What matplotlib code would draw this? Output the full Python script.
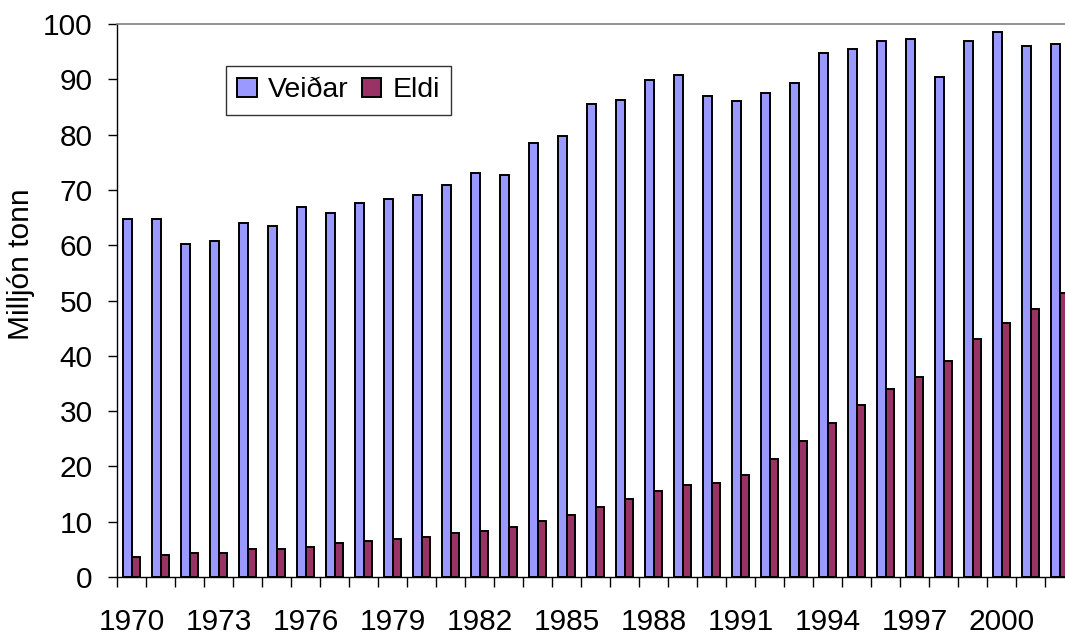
import matplotlib.pyplot as plt
import numpy as np

plt.rcParams['font.family'] = ['Liberation Sans', 'DejaVu Sans']

# years and catch (Veiðar) / aquaculture (Eldi), million tonnes
years = list(range(1970, 2003))
veidar = [64.7, 64.7, 60.3, 60.7, 64.0, 63.5, 66.9, 65.8, 67.6, 68.4,
          69.0, 70.8, 73.0, 72.7, 78.4, 79.8, 85.6, 86.3, 89.9, 90.7,
          87.0, 86.1, 87.5, 89.3, 94.8, 95.4, 96.9, 97.2, 90.4, 96.9,
          98.6, 96.1, 96.4]
eldi = [3.6, 3.9, 4.3, 4.3, 5.0, 5.0, 5.4, 6.1, 6.5, 6.8,
        7.2, 7.9, 8.3, 9.0, 10.1, 11.2, 12.7, 14.1, 15.5, 16.6,
        17.0, 18.4, 21.3, 24.6, 27.8, 31.1, 34.0, 36.2, 39.1, 43.0,
        45.9, 48.5, 51.4]
yticks = list(range(0, 101, 10))

x = np.arange(len(years))
w = 0.29
fs = 21.5

fig = plt.figure(figsize=(10.65, 6.37), dpi=100)
# axes runs a little past the right edge, like the original crop
ax = fig.add_axes([117 / 1065, 1 - 577 / 637, 957 / 1065, 553 / 637])

ax.bar(x - w / 2, veidar, w, color='#9999FF', edgecolor='black', linewidth=1.4, label='Veiðar')
ax.bar(x + w / 2, eldi, w, color='#993366', edgecolor='black', linewidth=1.4, label='Eldi')

ax.set_xlim(-0.5, len(years) - 0.5)
ax.set_ylim(0, 100)
ax.set_yticks(yticks)

ax.set_xticks(x[::3])
ax.set_xticklabels([str(y) for y in years[::3]])
ax.set_xticks(np.arange(len(years) + 1) - 0.5, minor=True)
ax.tick_params(axis='x', which='major', length=0, pad=22, labelsize=fs)
ax.tick_params(axis='x', which='minor', length=7, width=1, direction='out')
ax.tick_params(axis='y', length=6.5, width=1, pad=11, labelsize=fs, direction='out')

ax.spines['top'].set_color('#808080')
ax.spines['top'].set_linewidth(1.2)
ax.spines['right'].set_visible(False)
ax.spines['left'].set_linewidth(1)
ax.spines['bottom'].set_linewidth(1)

ax.set_ylabel('Milljón tonn', fontsize=fs)
ax.yaxis.set_label_coords(-0.086, 0.565)

leg = ax.legend(loc='upper left', bbox_to_anchor=(226 / 1065, 1 - 66 / 637),
                bbox_transform=fig.transFigure, ncol=2, fontsize=20.5,
                frameon=True, fancybox=False, shadow=False,
                handlelength=0.68, handleheight=0.66, handletextpad=0.4,
                columnspacing=0.45, borderpad=0.4, borderaxespad=0)
leg.get_frame().set_edgecolor('black')
leg.get_frame().set_linewidth(1)

fig.savefig('out.png', dpi=100)
